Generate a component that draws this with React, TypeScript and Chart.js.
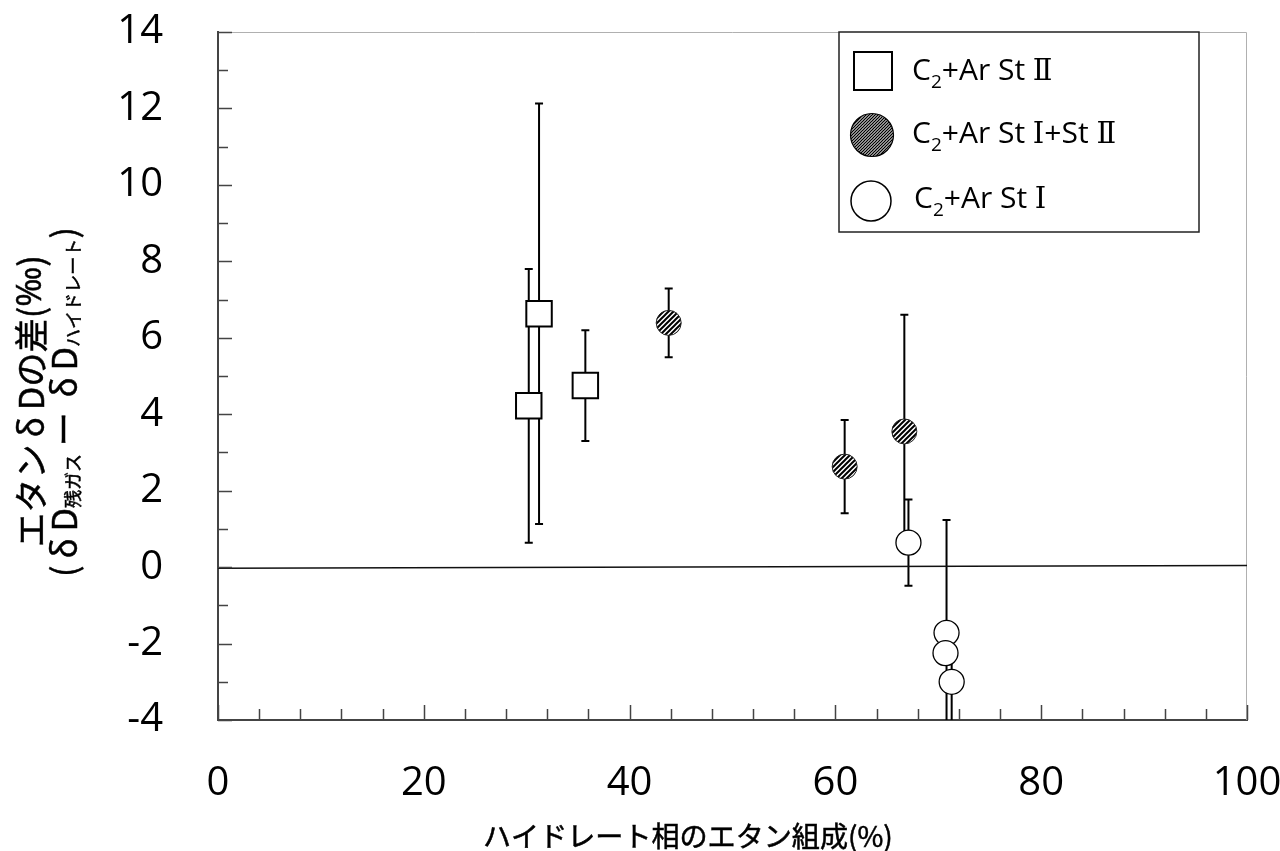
import React, { useEffect, useRef } from 'react';
import { Chart, registerables } from 'chart.js';

Chart.register(...registerables);

// ---- data ----
const xMin = 0;
const xMax = 100;
const yMin = -4;
const yMax = 14;
const xStep = 20;
const yStep = 2;

const stIIX = [30.2, 31.2, 35.7];
const stIIY = [4.22, 6.63, 4.75];
const stIIErr = [3.58, 5.5, 1.45];

const mixX = [43.8, 60.9, 66.7];
const mixY = [6.39, 2.63, 3.55];
const mixErr = [0.9, 1.22, 3.05];

const stIX = [67.1, 70.8, 70.7, 71.3];
const stIY = [0.64, -1.72, -2.25, -3.0];
const stIErr = [1.13, 2.95, 0.3, 1.4];

const zeroLineX = [0, 100];
const zeroLineY = [-0.03, 0.04];

const legendLabels: [string, string, string][] = [
  ['C', '2', '+Ar St Ⅱ'],
  ['C', '2', '+Ar St Ⅰ+St Ⅱ'],
  ['C', '2', '+Ar St Ⅰ'],
];

const xTitle = 'ハイドレート相のエタン組成(%)';
// [text, isSubscript, fullWidthBox, latinFont]
const yTitleLine1: [string, boolean, boolean, boolean][] = [
  ['エタン', false, false, false],
  ['δ', false, true, false],
  ['Dの差(', false, false, false],
  ['‰', false, false, true],
  [')', false, false, false],
];
const yTitleLine2: [string, boolean, boolean, boolean][] = [
  ['(', false, false, false],
  ['δ', false, true, false],
  ['D', false, false, false],
  ['残ガス', true, false, false],
  [' ー ', false, false, false],
  ['δ', false, true, false],
  ['D', false, false, false],
  ['ハイドレート', true, false, false],
  [')', false, false, false],
];

const LATIN = "'Open Sans', 'Noto Sans CJK JP', sans-serif";
const CJK = "'Noto Sans CJK JP', 'Open Sans', sans-serif";
const ROMAN = "'DejaVu Serif', 'Liberation Serif', 'Noto Sans CJK JP', serif";

function makeHatch(ctx: CanvasRenderingContext2D, p: number, lw: number) {
  const c = document.createElement('canvas');
  c.width = p;
  c.height = p;
  const g = c.getContext('2d')!;
  g.fillStyle = '#fff';
  g.fillRect(0, 0, p, p);
  g.strokeStyle = '#000';
  g.lineWidth = lw;
  g.beginPath();
  g.moveTo(-1, p + 1);
  g.lineTo(p + 1, -1);
  g.moveTo(-p, p);
  g.lineTo(p, -p);
  g.moveTo(0, 2 * p);
  g.lineTo(2 * p, 0);
  g.stroke();
  return ctx.createPattern(c, 'repeat')!;
}

type Seg = { text: string; size: number; dy: number; fw: boolean; family: string };

function drawFitSegments(
  ctx: CanvasRenderingContext2D,
  segs: Seg[],
  cx: number,
  cy: number,
  target: number,
  rotate: boolean
) {
  ctx.save();
  ctx.translate(cx, cy);
  if (rotate) ctx.rotate(-Math.PI / 2);
  ctx.textBaseline = 'middle';
  ctx.fillStyle = '#000';
  ctx.strokeStyle = '#000';
  ctx.lineWidth = 0.5;
  let total = 0;
  segs.forEach((s) => {
    ctx.font = `${s.size}px ${s.family}`;
    const w = ctx.measureText(s.text).width;
    total += s.fw ? Math.max(w, s.size) : w;
  });
  const k = target / total;
  let x = -target / 2;
  segs.forEach((s) => {
    const size = s.size * k;
    ctx.font = `${size}px ${s.family}`;
    const w = ctx.measureText(s.text).width;
    const adv = s.fw ? Math.max(w, size) : w;
    ctx.textAlign = 'center';
    ctx.fillText(s.text, x + adv / 2, s.dy * k);
    ctx.strokeText(s.text, x + adv / 2, s.dy * k);
    x += adv;
  });
  ctx.restore();
}

export default function App() {
  const canvasRef = useRef<HTMLCanvasElement | null>(null);

  useEffect(() => {
    const canvas = canvasRef.current;
    if (!canvas) return;
    const ctx0 = canvas.getContext('2d')!;
    const hatchPlot = makeHatch(ctx0, 5, 2);
    const hatchLegend = makeHatch(ctx0, 3, 1.3);

    const decor = {
      id: 'decor',
      beforeDatasetsDraw(chart: any) {
        const { ctx, chartArea: a, scales } = chart;
        const xs = scales.x;
        const ys = scales.y;
        ctx.save();
        ctx.strokeStyle = '#b0b0b0';
        ctx.lineWidth = 1;
        ctx.beginPath();
        ctx.moveTo(a.left, a.top + 0.5);
        ctx.lineTo(a.right - 0.5, a.top + 0.5);
        ctx.lineTo(a.right - 0.5, a.bottom);
        ctx.stroke();
        ctx.beginPath();
        ctx.rect(a.left, a.top, a.right - a.left, a.bottom - a.top);
        ctx.clip();
        ctx.strokeStyle = '#000';
        ctx.lineWidth = 2;
        chart.data.datasets.forEach((ds: any) => {
          if (!ds.errors) return;
          ds.data.forEach((pt: any, i: number) => {
            const e = ds.errors[i];
            const px = xs.getPixelForValue(pt.x);
            const pt1 = ys.getPixelForValue(pt.y + e);
            const pb = ys.getPixelForValue(pt.y - e);
            ctx.beginPath();
            ctx.moveTo(px, pt1);
            ctx.lineTo(px, pb);
            ctx.moveTo(px - 4, pt1);
            ctx.lineTo(px + 4, pt1);
            ctx.moveTo(px - 4, pb);
            ctx.lineTo(px + 4, pb);
            ctx.stroke();
          });
        });
        ctx.restore();
      },
      afterDraw(chart: any) {
        const { ctx, chartArea: a, scales } = chart;
        const xs = scales.x;
        const ys = scales.y;
        ctx.save();
        ctx.strokeStyle = '#444';
        ctx.lineWidth = 1.5;
        ctx.beginPath();
        for (let v = xMin; v <= xMax; v += 4) {
          const px = Math.round(xs.getPixelForValue(v)) + 0.5;
          const len = v % xStep === 0 ? 15 : 11;
          ctx.moveTo(px, a.bottom);
          ctx.lineTo(px, a.bottom - len);
        }
        for (let v = yMin; v <= yMax; v += 1) {
          const py = Math.round(ys.getPixelForValue(v)) + 0.5;
          const len = v % yStep === 0 ? 14 : 10;
          ctx.moveTo(a.left, py);
          ctx.lineTo(a.left + len, py);
        }
        ctx.stroke();

        // legend
        const lx = 839, ly = 32, lw = 360, lh = 200;
        ctx.fillStyle = '#fff';
        ctx.fillRect(lx, ly, lw, lh);
        ctx.strokeStyle = '#222';
        ctx.lineWidth = 1.5;
        ctx.strokeRect(lx, ly, lw, lh);
        const rows = [71, 135, 201];
        ctx.fillStyle = '#fff';
        ctx.strokeStyle = '#000';
        ctx.lineWidth = 2;
        ctx.fillRect(854, rows[0] - 19, 38, 38);
        ctx.strokeRect(854, rows[0] - 19, 38, 38);
        ctx.beginPath();
        ctx.arc(872, rows[1], 21.5, 0, Math.PI * 2);
        ctx.fillStyle = hatchLegend;
        ctx.fill();
        ctx.lineWidth = 1.2;
        ctx.strokeStyle = '#000';
        ctx.stroke();
        ctx.beginPath();
        ctx.arc(871, rows[2], 20, 0, Math.PI * 2);
        ctx.fillStyle = '#fff';
        ctx.fill();
        ctx.lineWidth = 1.5;
        ctx.stroke();
        ctx.fillStyle = '#000';
        ctx.textAlign = 'left';
        ctx.textBaseline = 'alphabetic';
        const baselines = [80, 143, 208];
        const startX = [912, 912, 914];
        legendLabels.forEach((lab, i) => {
          let x = startX[i];
          ctx.font = `30px ${LATIN}`;
          ctx.fillText(lab[0], x, baselines[i]);
          x += ctx.measureText(lab[0]).width;
          ctx.font = `19px ${LATIN}`;
          ctx.fillText(lab[1], x, baselines[i] + 8);
          x += ctx.measureText(lab[1]).width;
          const parts = lab[2].split(/([ⅠⅡ])/).filter((p) => p.length > 0);
          parts.forEach((p) => {
            ctx.font = /[ⅠⅡ]/.test(p) ? `29px ${ROMAN}` : `30px ${LATIN}`;
            ctx.fillText(p, x, baselines[i]);
            x += ctx.measureText(p).width;
          });
        });

        // x title
        drawFitSegments(
          ctx,
          [{ text: xTitle, size: 26, dy: 0, fw: false, family: CJK }],
          688,
          836,
          410,
          false
        );

        // y title
        drawFitSegments(
          ctx,
          yTitleLine1.map(([t, sub, fw, lat]) => ({
            text: t,
            size: 30,
            dy: 0,
            fw,
            family: lat ? LATIN : CJK,
          })),
          31,
          401,
          292,
          true
        );
        drawFitSegments(
          ctx,
          yTitleLine2.map(([t, sub, fw, lat]) => ({
            text: t,
            size: sub ? 17 : 32,
            dy: sub ? 9 : 0,
            fw,
            family: lat ? LATIN : CJK,
          })),
          64,
          402,
          350,
          true
        );
        ctx.restore();
      },
    };

    const chart = new Chart(canvas, {
      type: 'scatter',
      data: {
        datasets: [
          {
            label: 'C2+Ar St II',
            data: stIIX.map((x, i) => ({ x, y: stIIY[i] })),
            errors: stIIErr,
            pointStyle: 'rect',
            pointRadius: 18,
            backgroundColor: '#fff',
            borderColor: '#000',
            borderWidth: 2,
          } as any,
          {
            label: 'C2+Ar St I+St II',
            data: mixX.map((x, i) => ({ x, y: mixY[i] })),
            errors: mixErr,
            pointStyle: 'circle',
            pointRadius: 12.5,
            backgroundColor: hatchPlot,
            borderColor: '#222',
            borderWidth: 1,
          } as any,
          {
            label: 'C2+Ar St I',
            data: stIX.map((x, i) => ({ x, y: stIY[i] })),
            errors: stIErr,
            pointStyle: 'circle',
            pointRadius: 12.5,
            backgroundColor: '#fff',
            borderColor: '#000',
            borderWidth: 1.3,
          } as any,
          {
            label: 'zero',
            data: zeroLineX.map((x, i) => ({ x, y: zeroLineY[i] })),
            showLine: true,
            borderColor: '#111',
            borderWidth: 1.5,
            pointRadius: 0,
          } as any,
        ],
      },
      options: {
        animation: false,
        responsive: true,
        maintainAspectRatio: false,
        events: [],
        layout: { padding: { top: 32, right: 33, left: 0, bottom: 0 } },
        plugins: {
          legend: { display: false },
          tooltip: { enabled: false },
        },
        scales: {
          x: {
            type: 'linear',
            min: xMin,
            max: xMax,
            afterFit: (s: any) => {
              s.height = 131;
              s.paddingLeft = 0;
              s.paddingRight = 0;
            },
            ticks: {
              stepSize: xStep,
              padding: 40,
              color: '#000',
              font: { size: 40, family: LATIN },
              maxRotation: 0,
            },
            grid: { display: true, drawOnChartArea: false, drawTicks: false },
            border: { display: true, color: '#444', width: 2 },
          },
          y: {
            type: 'linear',
            min: yMin,
            max: yMax,
            afterFit: (s: any) => {
              s.width = 218;
              s.paddingTop = 0;
              s.paddingBottom = 0;
            },
            ticks: {
              stepSize: yStep,
              padding: 55,
              color: '#000',
              font: { size: 40, family: LATIN },
            },
            grid: { display: true, drawOnChartArea: false, drawTicks: false },
            border: { display: true, color: '#444', width: 2 },
          },
        },
      },
      plugins: [decor],
    });

    return () => chart.destroy();
  }, []);

  return (
    <div style={{ position: 'fixed', left: 0, top: 0, width: 1280, height: 851, background: '#fff' }}>
      <canvas ref={canvasRef} />
    </div>
  );
}
